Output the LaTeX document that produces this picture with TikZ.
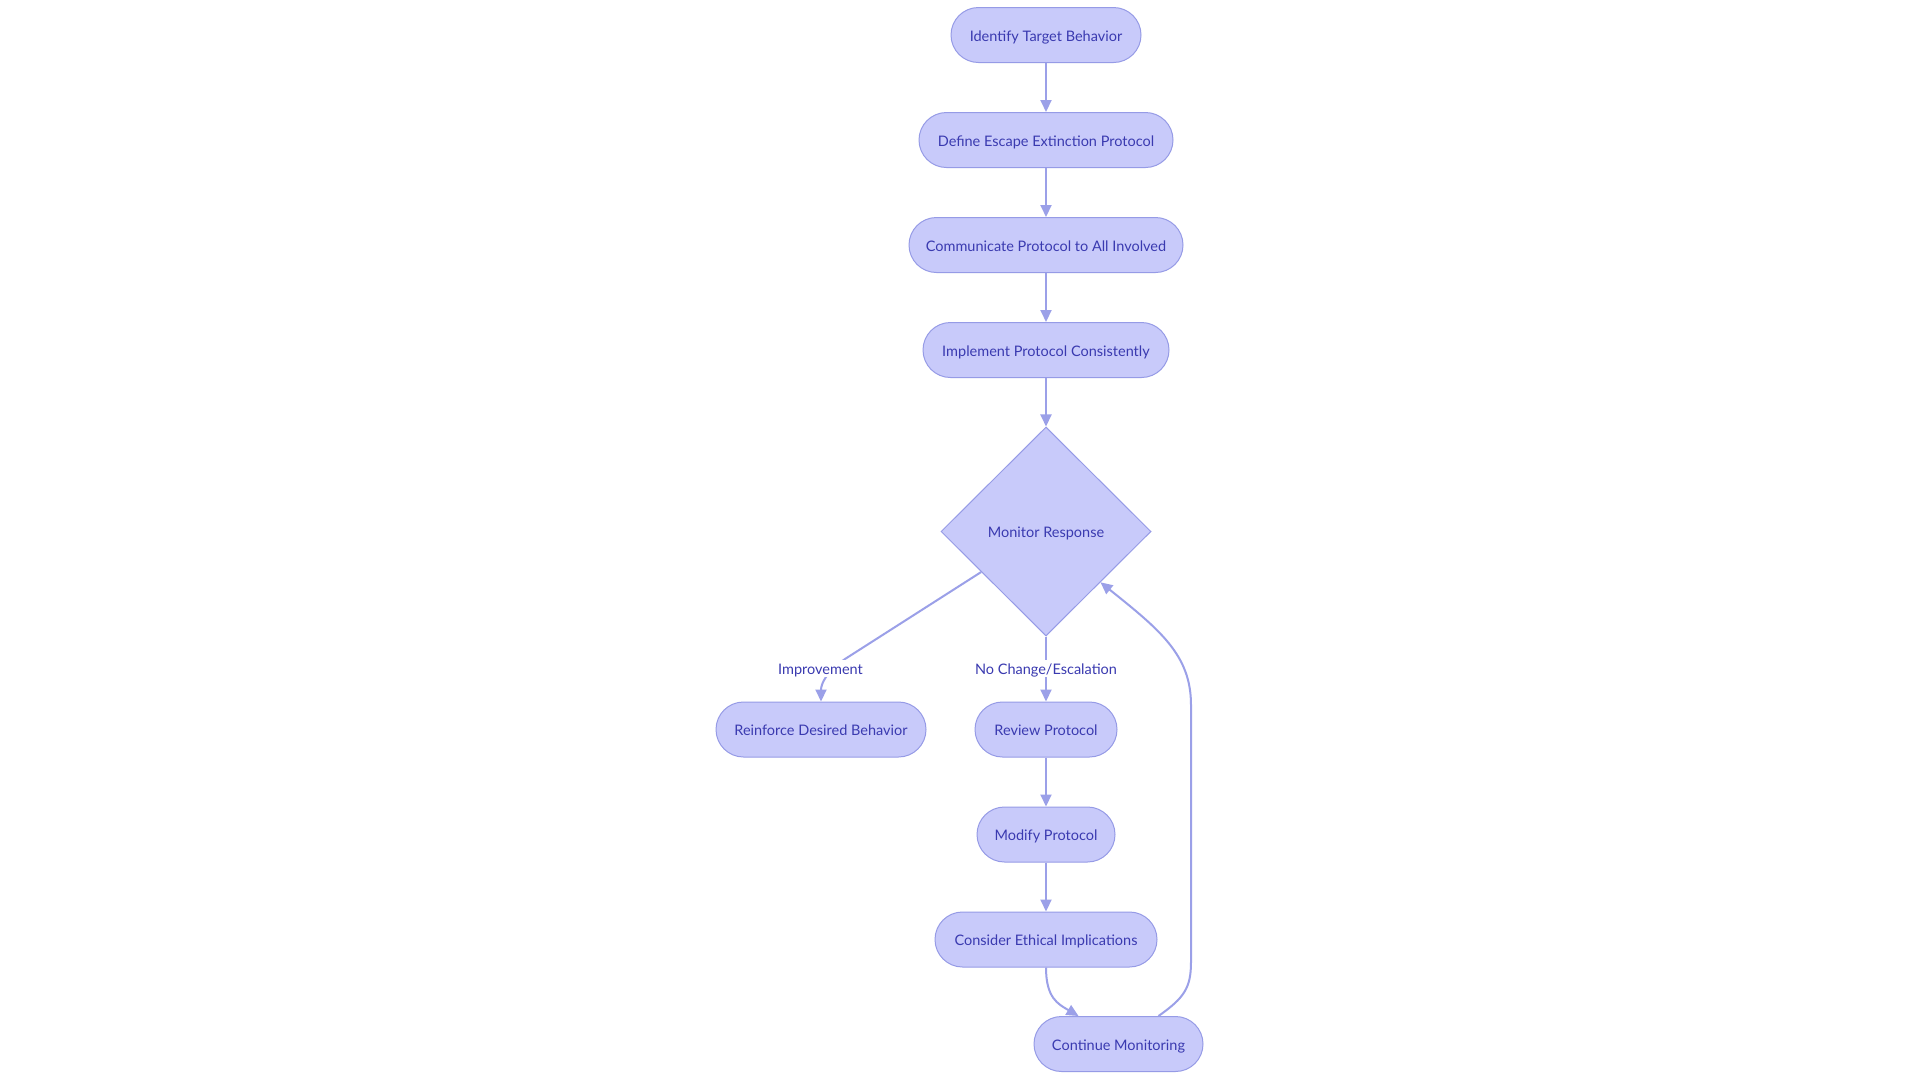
\documentclass[tikz,border=0pt]{standalone}
\usepackage{fontspec}
\setmainfont{Lato}
\usetikzlibrary{shapes.geometric,arrows.meta}
\definecolor{nfill}{RGB}{200,202,250}
\definecolor{nstroke}{RGB}{150,155,230}
\definecolor{ntext}{RGB}{58,58,176}
\definecolor{eline}{RGB}{155,160,232}
\tikzset{
  txt/.style={text=ntext, font=\fontsize{14.5}{16}\selectfont, text height=12.6pt, text depth=0pt},
  pill/.style={txt, draw=nstroke, line width=1pt, fill=nfill, rounded corners=27.5pt,
    minimum height=55pt, inner sep=0pt},
  decision/.style={txt, diamond, draw=nstroke, line width=1pt, fill=nfill, aspect=1,
    minimum width=210pt, minimum height=209pt, inner sep=0pt},
  arr/.style={draw=eline, line width=2pt, -{Triangle[length=12pt,width=11pt]}},
  elabel/.style={txt, fill=white, inner sep=2pt}
}
\begin{document}
\begin{tikzpicture}[x=1pt,y=-1pt]
\useasboundingbox[fill=white] (0,0) rectangle (1920,1080);
\node[pill, minimum width=190pt] (n1) at (1046,35) {Identify Target Behavior};
\node[pill, minimum width=254pt] (n2) at (1046,140) {Define Escape Extinction Protocol};
\node[pill, minimum width=274pt] (n3) at (1046,245) {Communicate Protocol to All Involved};
\node[pill, minimum width=246pt] (n4) at (1046,350) {Implement Protocol Consistently};
\node[decision] (d) at (1046,531.5) {Monitor Response};
\node[pill, minimum width=210pt] (r) at (821,729.5) {Reinforce Desired Behavior};
\node[pill, minimum width=142pt] (rv) at (1046,729.5) {Review Protocol};
\node[pill, minimum width=138pt] (m) at (1046,834.5) {Modify Protocol};
\node[pill, minimum width=222pt] (c) at (1046,939.5) {Consider Ethical Implications};
\node[pill, minimum width=169pt] (cm) at (1118.5,1044) {Continue Monitoring};

\draw[arr] (n1) -- (n2);
\draw[arr] (n2) -- (n3);
\draw[arr] (n3) -- (n4);
\draw[arr] (n4) -- (d);
\draw[arr] (d.212) -- (845,659) .. controls (826,672) and (821,684) .. (r.north);
\node[elabel] (l1) at (820.5,668.6) {Improvement};
\draw[arr] (d.south) -- (rv.north);
\node[elabel] (l2) at (1046,668.6) {No Change/Escalation};
\draw[arr] (rv) -- (m);
\draw[arr] (m) -- (c);
\draw[arr] (c.south) .. controls (1046,998) and (1058,1004) .. ([xshift=-40pt]cm.north);
\draw[arr] ([xshift=40pt]cm.north) .. controls (1184,998) and (1191,988) .. (1191,962)
  -- (1191,705) .. controls (1191,655) and (1160,630) .. (d.-43);
\end{tikzpicture}
\end{document}
